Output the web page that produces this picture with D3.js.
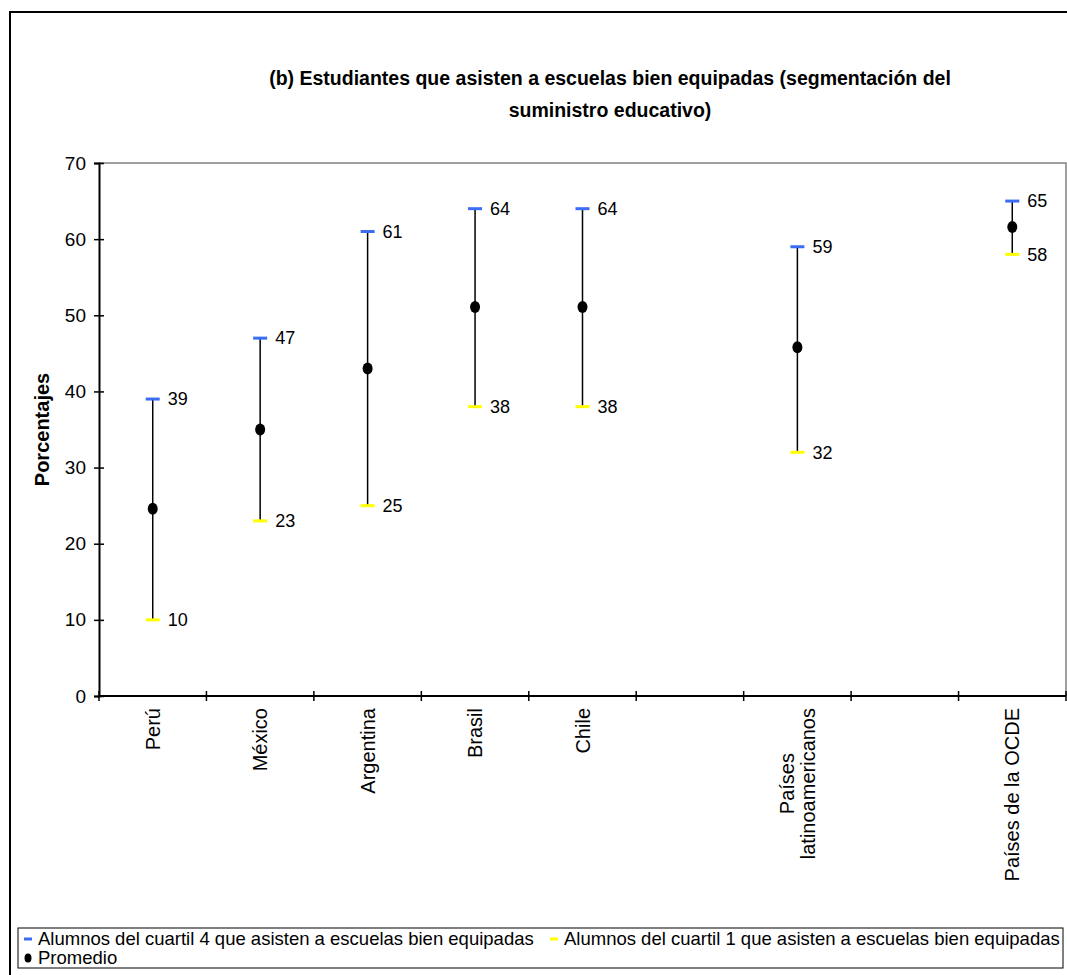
<!DOCTYPE html>
<html>
<head>
<meta charset="utf-8">
<script src="https://cdn.jsdelivr.net/npm/d3@7"></script>
<style>
  html, body { margin: 0; padding: 0; background: #fff; }
  svg { display: block; font-family: "Liberation Sans", Arial, sans-serif; }
</style>
</head>
<body>
<svg id="chart" width="1067" height="975"></svg>
<script>
// Categories (empty slots are kept as spacing between groups)
const categories = ["Perú", "México", "Argentina", "Brasil", "Chile", "", "Países\nlatinoamericanos", "", "Países de la OCDE"];
// Share of quartile-4 students attending well-equipped schools
const cuartil4 = [39, 47, 61, 64, 64, null, 59, null, 65];
// Share of quartile-1 students attending well-equipped schools
const cuartil1 = [10, 23, 25, 38, 38, null, 32, null, 58];
// Average
const promedio = [24.6, 35, 43, 51.1, 51.1, null, 45.8, null, 61.6];
const yTicks = [0, 10, 20, 30, 40, 50, 60, 70];

const titleLines = ["(b) Estudiantes que asisten a escuelas bien equipadas (segmentación del", "suministro educativo)"];
const legendLabels = ["Alumnos del cuartil 4 que asisten a escuelas bien equipadas", "Alumnos del cuartil 1 que asisten a escuelas bien equipadas", "Promedio"];

const BLUE = "#3a6cf4", YELLOW = "#ffff00";

const svg = d3.select("#chart");
const plot = { left: 99, right: 1066, top: 163, bottom: 696 };

// outer chart frame
svg.append("rect").attr("x", 10).attr("y", 12).attr("width", 1080).attr("height", 1000)
  .attr("fill", "none").attr("stroke", "#000").attr("stroke-width", 2);

// title
svg.append("g").selectAll("text").data(titleLines).join("text")
  .attr("x", 610).attr("y", (d, i) => 85 + i * 32)
  .attr("text-anchor", "middle").attr("font-weight", "bold").attr("font-size", 19.5)
  .text(d => d);

const x = d3.scaleBand().domain(d3.range(categories.length)).range([plot.left, plot.right]);
const y = d3.scaleLinear().domain([0, 70]).range([plot.bottom, plot.top]);

// plot-area border (top and right)
svg.append("path")
  .attr("d", `M${plot.left},${plot.top}H${plot.right}V${plot.bottom}`)
  .attr("fill", "none").attr("stroke", "#808080").attr("stroke-width", 1.5);

// y axis
const yAxis = svg.append("g").attr("transform", `translate(${plot.left},0)`)
  .call(d3.axisLeft(y).tickValues(yTicks).tickSize(5).tickPadding(8));
yAxis.select(".domain").attr("stroke-width", 2);
yAxis.selectAll(".tick line").attr("x2", 5).attr("x1", -5).attr("stroke-width", 1.5);
yAxis.selectAll(".tick text").attr("font-size", 19).attr("font-family", "Liberation Sans, Arial, sans-serif").attr("fill", "#000");

// x axis with ticks at band boundaries
const xg = svg.append("g");
xg.append("line").attr("x1", plot.left).attr("x2", plot.right).attr("y1", plot.bottom).attr("y2", plot.bottom)
  .attr("stroke", "#000").attr("stroke-width", 2);
const bounds = d3.range(categories.length + 1).map(i => i < categories.length ? x(i) : x(i - 1) + x.bandwidth());
xg.selectAll("line.tk").data(bounds).join("line").attr("class", "tk")
  .attr("x1", d => d).attr("x2", d => d).attr("y1", plot.bottom - 5).attr("y2", plot.bottom + 5)
  .attr("stroke", "#000").attr("stroke-width", 1.5);

// rotated category labels: block anchored below the axis, lines centred within the block
const labelSize = 20, lineGap = 21;
categories.forEach((c, i) => {
  if (!c) return;
  const lines = c.split("\n");
  const cx = x(i) + x.bandwidth() / 2;
  const nodes = lines.map((ln, k) => xg.append("text")
    .attr("text-anchor", "middle").attr("font-size", labelSize).attr("dy", "0.35em").text(ln));
  const maxLen = d3.max(nodes, n => n.node().getComputedTextLength());
  const mid = plot.bottom + 12 + maxLen / 2;
  nodes.forEach((n, k) => {
    const lx = cx + (k - (lines.length - 1) / 2) * lineGap;
    n.attr("transform", `translate(${lx},${mid}) rotate(-90)`);
  });
});

// y axis title
svg.append("text").attr("transform", `translate(49,${(plot.top + plot.bottom) / 2}) rotate(-90)`)
  .attr("text-anchor", "middle").attr("font-weight", "bold").attr("font-size", 20)
  .text("Porcentajes");

// series
const rows = categories.map((c, i) => ({ i, hi: cuartil4[i], lo: cuartil1[i], avg: promedio[i] }))
  .filter(d => d.hi != null);
const g = svg.append("g");
const cxOf = d => x(d.i) + x.bandwidth() / 2;

g.selectAll("line.range").data(rows).join("line").attr("class", "range")
  .attr("x1", cxOf).attr("x2", cxOf).attr("y1", d => y(d.lo)).attr("y2", d => y(d.hi))
  .attr("stroke", "#000").attr("stroke-width", 1.5);

g.selectAll("line.hi").data(rows).join("line").attr("class", "hi")
  .attr("x1", d => cxOf(d) - 7).attr("x2", d => cxOf(d) + 7).attr("y1", d => y(d.hi)).attr("y2", d => y(d.hi))
  .attr("stroke", BLUE).attr("stroke-width", 3);
g.selectAll("line.lo").data(rows).join("line").attr("class", "lo")
  .attr("x1", d => cxOf(d) - 7).attr("x2", d => cxOf(d) + 7).attr("y1", d => y(d.lo)).attr("y2", d => y(d.lo))
  .attr("stroke", YELLOW).attr("stroke-width", 3);

g.selectAll("ellipse.avg").data(rows).join("ellipse").attr("class", "avg")
  .attr("cx", cxOf).attr("cy", d => y(d.avg)).attr("rx", 5).attr("ry", 6).attr("fill", "#000");

g.selectAll("text.hi").data(rows).join("text").attr("class", "hi")
  .attr("x", d => cxOf(d) + 15).attr("y", d => y(d.hi)).attr("dy", "0.35em").attr("font-size", 18)
  .text(d => d.hi);
g.selectAll("text.lo").data(rows).join("text").attr("class", "lo")
  .attr("x", d => cxOf(d) + 15).attr("y", d => y(d.lo)).attr("dy", "0.35em").attr("font-size", 18)
  .text(d => d.lo);

// legend
const lg = svg.append("g");
lg.append("rect").attr("x", 18).attr("y", 928).attr("width", 1045).attr("height", 40)
  .attr("fill", "#fff").attr("stroke", "#000").attr("stroke-width", 1);
const items = [
  { type: "hi", color: BLUE, x: 24, y: 939, label: legendLabels[0] },
  { type: "lo", color: YELLOW, x: 550, y: 939, label: legendLabels[1] },
  { type: "avg", color: "#000", x: 24, y: 958, label: legendLabels[2] }
];
items.forEach(it => {
  if (it.type === "avg") {
    lg.append("ellipse").attr("cx", it.x + 4).attr("cy", it.y).attr("rx", 3.5).attr("ry", 4.5).attr("fill", "#000");
  } else {
    lg.append("line").attr("x1", it.x).attr("x2", it.x + 8).attr("y1", it.y).attr("y2", it.y)
      .attr("stroke", it.color).attr("stroke-width", 3);
  }
  lg.append("text").attr("x", it.x + 14).attr("y", it.y).attr("dy", "0.35em").attr("font-size", 18.5)
    .text(it.label);
});
</script>
</body>
</html>
